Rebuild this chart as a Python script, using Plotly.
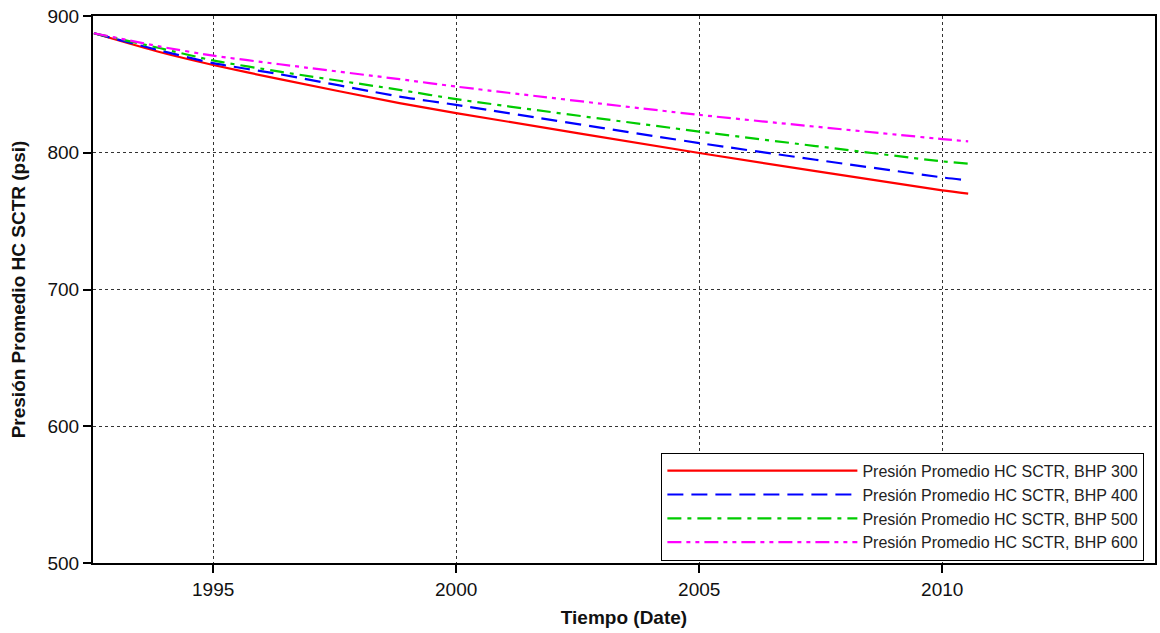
import plotly.graph_objects as go

dates = ["1992-07-19", "1993-12-01", "1995-01-01", "1996-05-15", "1998-11-01",
         "2000-01-01", "2005-01-01", "2010-01-01", "2010-07-15"]
bhp300 = [887.4, 873.5, 864.2, 853.8, 836.3, 829.0, 799.8, 772.5, 770.1]
bhp400 = [887.4, 874.7, 865.5, 857.4, 841.1, 835.0, 807.1, 782.0, 779.8]
bhp500 = [887.4, 876.4, 867.5, 859.3, 846.0, 839.2, 815.5, 793.7, 792.0]
bhp600 = [887.4, 877.6, 871.0, 864.7, 853.8, 848.4, 827.7, 810.0, 808.3]

names = ["Presión Promedio HC SCTR, BHP 300", "Presión Promedio HC SCTR, BHP 400",
         "Presión Promedio HC SCTR, BHP 500", "Presión Promedio HC SCTR, BHP 600"]
colors = ["#ff0000", "#0000ff", "#00cc00", "#ff00ff"]
dashes = ["solid", "16px,8px", "14px,6px,4px,6px", "14px,5px,4px,5px,4px,5px"]
series = [bhp300, bhp400, bhp500, bhp600]

xticks = ["1995-01-01", "2000-01-01", "2005-01-01", "2010-01-01"]
xtick_text = ["1995", "2000", "2005", "2010"]

fig = go.Figure()
for n, c, d, s in zip(names, colors, dashes, series):
    fig.add_trace(go.Scatter(x=dates, y=s, mode="lines", name=n,
                             line=dict(color=c, width=2.2, dash=d,
                                       shape="spline", smoothing=0.6)))

font_family = "Liberation Sans, Arial, sans-serif"
fig.update_layout(
    width=1160, height=633,
    margin=dict(l=93, r=3, t=16, b=70),
    paper_bgcolor="white", plot_bgcolor="white",
    font=dict(family=font_family, color="#111111", size=18),
    showlegend=True,
    legend=dict(x=0.99, y=0.004, xanchor="right", yanchor="bottom",
                bgcolor="white", bordercolor="#000000", borderwidth=1,
                font=dict(size=16, family=font_family, color="#222222"),
                itemwidth=190, tracegroupgap=0),
    xaxis=dict(type="date", range=["1992-07-12", "2014-05-19"],
               tickvals=xticks, ticktext=xtick_text,
               showline=True, linecolor="black", linewidth=2, mirror=True,
               ticks="outside", ticklen=8, tickwidth=2, tickcolor="black",
               showgrid=True, gridcolor="#333333", gridwidth=1, griddash="3px,3px",
               zeroline=False,
               tickfont=dict(size=19),
               title=dict(text="<b>Tiempo (Date)</b>", font=dict(size=19), standoff=12)),
    yaxis=dict(range=[500, 900], tickvals=[500, 600, 700, 800, 900],
               showline=True, linecolor="black", linewidth=2, mirror=True,
               ticks="outside", ticklen=8, tickwidth=2, tickcolor="black",
               showgrid=True, gridcolor="#333333", gridwidth=1, griddash="3px,3px",
               zeroline=False,
               tickfont=dict(size=19),
               title=dict(text="<b>Presión Promedio HC SCTR (psi)</b>", font=dict(size=19), standoff=17)),
)

fig.write_html("out.html")
